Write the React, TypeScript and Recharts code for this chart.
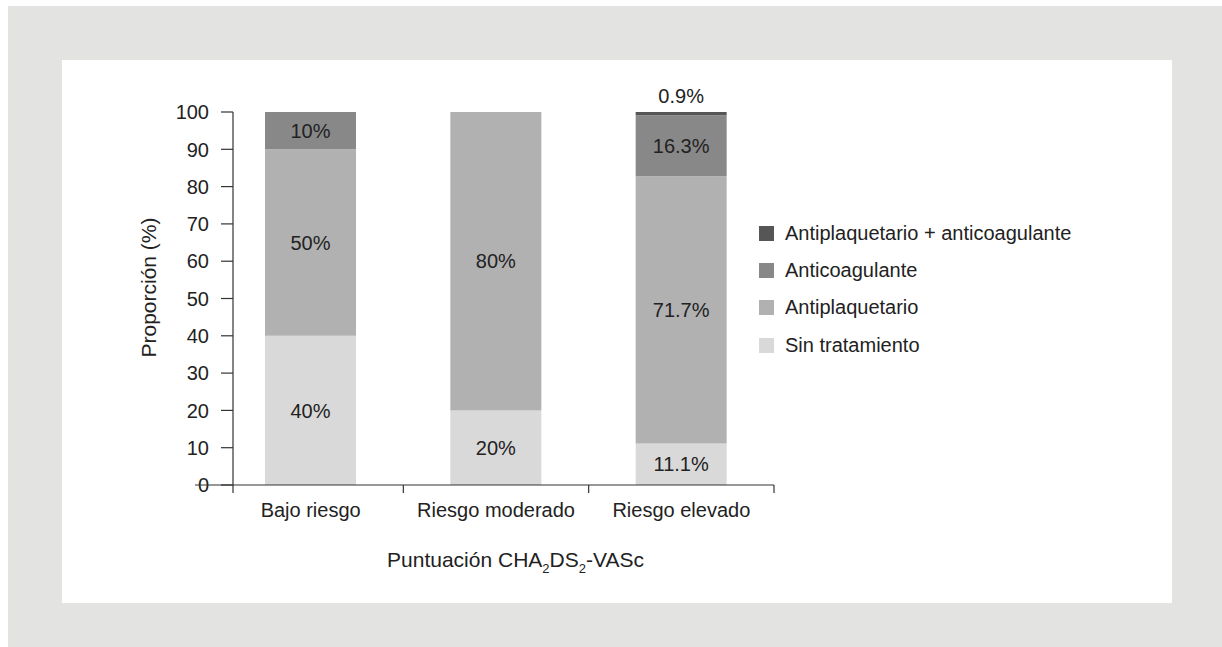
import React from 'react';
import { BarChart, Bar, XAxis, YAxis, Legend, LabelList } from 'recharts';

const categories = ['Bajo riesgo', 'Riesgo moderado', 'Riesgo elevado'];
const sinTratamiento = [40, 20, 11.1];
const antiplaquetario = [50, 80, 71.7];
const anticoagulante = [10, 0, 16.3];
const antiplaqAnticoag = [0, 0, 0.9];
const yTicks = [0, 10, 20, 30, 40, 50, 60, 70, 80, 90, 100];
const legendOrder = ['Antiplaquetario + anticoagulante', 'Anticoagulante', 'Antiplaquetario', 'Sin tratamiento'];

const data = categories.map((name, i) => ({
  name,
  sin: sinTratamiento[i],
  antiplaq: antiplaquetario[i],
  anticoag: anticoagulante[i],
  ambos: antiplaqAnticoag[i],
}));

const FONT = '"Liberation Sans", Arial, Helvetica, sans-serif';
const TEXT = '#222';
const AXIS = '#333';

const CHART_W = 1110;
const CHART_H = 543;
const MARGIN = { top: 52, right: 398, bottom: 18, left: 71 };
const Y_AXIS_W = 100;
const X_PAD_LEFT = -15;
const PLOT_W = CHART_W - MARGIN.left - MARGIN.right - Y_AXIS_W;
const BAND = (PLOT_W - X_PAD_LEFT) / categories.length;

const XTick = (props: any) => {
  const { x, y, payload, index } = props;
  return (
    <g>
      <text x={x} y={y + 24} textAnchor="middle" fontSize={20} fill={TEXT} fontFamily={FONT}>
        {payload.value}
      </text>
      {index > 0 && (
        <line x1={x - BAND / 2} x2={x - BAND / 2} y1={y - 8} y2={y} stroke={AXIS} strokeWidth={1.2} />
      )}
      {index === categories.length - 1 && (
        <line x1={x + BAND / 2} x2={x + BAND / 2} y1={y - 8} y2={y} stroke={AXIS} strokeWidth={1.2} />
      )}
    </g>
  );
};

const YTick = (props: any) => {
  const { x, y, payload } = props;
  return (
    <g>
      <text x={x} y={y} dy="0.36em" textAnchor="end" fontSize={20} fill={TEXT} fontFamily={FONT}>
        {payload.value}
      </text>
      {payload.value === 0 && (
        <g>
          <line x1={x - 14} x2={x + 24} y1={y} y2={y} stroke={AXIS} strokeWidth={1.2} />
          <line x1={x + 24} x2={x + 24} y1={y} y2={y + 8} stroke={AXIS} strokeWidth={1.2} />
        </g>
      )}
    </g>
  );
};

const xLabel = (props: any) => {
  const vb = props.viewBox || {};
  const cx = vb.x + vb.width / 2 + 12;
  const y = vb.y + 82;
  return (
    <text x={cx} y={y} textAnchor="middle" fontSize={21} fill={TEXT} fontFamily={FONT}>
      <tspan>Puntuación CHA</tspan>
      <tspan fontSize={13} dy={6}>2</tspan>
      <tspan fontSize={21} dy={-6}>DS</tspan>
      <tspan fontSize={13} dy={6}>2</tspan>
      <tspan fontSize={21} dy={-6}>-VASc</tspan>
    </text>
  );
};

const yLabel = (props: any) => {
  const vb = props.viewBox || {};
  const cx = vb.x + 16;
  const cy = vb.y + vb.height / 2 - 11;
  return (
    <text
      x={cx}
      y={cy}
      transform={`rotate(-90, ${cx}, ${cy})`}
      textAnchor="middle"
      dy="0.35em"
      fontSize={21}
      fill={TEXT}
      fontFamily={FONT}
    >
      Proporción (%)
    </text>
  );
};

const barLabel = (props: any) => {
  const { x, y, width, height, value } = props;
  if (!value) return null;
  if (value < 2) {
    return (
      <text x={x + width / 2} y={y - 9} textAnchor="middle" fontSize={20} fill={TEXT} fontFamily={FONT}>
        {`${value}%`}
      </text>
    );
  }
  return (
    <text
      x={x + width / 2}
      y={y + height / 2}
      dy="0.36em"
      textAnchor="middle"
      fontSize={20}
      fill={TEXT}
      fontFamily={FONT}
    >
      {`${value}%`}
    </text>
  );
};

const LegendContent = (props: any) => {
  const items = [...(props.payload || [])].sort(
    (a: any, b: any) => legendOrder.indexOf(a.value) - legendOrder.indexOf(b.value)
  );
  return (
    <ul style={{ listStyle: 'none', margin: 0, padding: 0, fontFamily: FONT }}>
      {items.map((it: any) => (
        <li key={it.value} style={{ display: 'flex', alignItems: 'center', height: 37.3 }}>
          <span style={{ display: 'inline-block', width: 15, height: 15, background: it.color, marginRight: 11 }} />
          <span style={{ fontSize: 20, color: TEXT, whiteSpace: 'nowrap' }}>{it.value}</span>
        </li>
      ))}
    </ul>
  );
};

export default function App() {
  return (
    <div style={{ position: 'fixed', left: 8, top: 6, right: 0, bottom: 0, background: '#e3e3e1' }}>
      <div style={{ position: 'absolute', left: 54, top: 54, width: CHART_W, height: CHART_H, background: '#ffffff' }}>
        <BarChart width={CHART_W} height={CHART_H} data={data} margin={MARGIN}>
          <XAxis
            dataKey="name"
            type="category"
            padding={{ left: X_PAD_LEFT, right: 0 }}
            interval={0}
            tickLine={false}
            tickSize={8}
            tickMargin={0}
            axisLine={{ stroke: AXIS, strokeWidth: 1.2 }}
            tick={<XTick />}
            height={100}
            label={xLabel}
          />
          <YAxis
            type="number"
            domain={[0, 100]}
            ticks={yTicks}
            interval={0}
            width={Y_AXIS_W}
            tickSize={12}
            tickMargin={12}
            tickLine={{ stroke: AXIS, strokeWidth: 1.2 }}
            axisLine={{ stroke: AXIS, strokeWidth: 1.2 }}
            tick={<YTick />}
            label={yLabel}
          />
          <Legend
            layout="vertical"
            align="center"
            verticalAlign="middle"
            wrapperStyle={{ left: 697, top: 154.5, width: 360 }}
            content={<LegendContent />}
          />
          <Bar dataKey="sin" name="Sin tratamiento" stackId="a" fill="#d9d9d9" barSize={91} isAnimationActive={false}>
            <LabelList dataKey="sin" content={barLabel} />
          </Bar>
          <Bar dataKey="antiplaq" name="Antiplaquetario" stackId="a" fill="#b1b1b1" barSize={91} isAnimationActive={false}>
            <LabelList dataKey="antiplaq" content={barLabel} />
          </Bar>
          <Bar dataKey="anticoag" name="Anticoagulante" stackId="a" fill="#888888" barSize={91} isAnimationActive={false}>
            <LabelList dataKey="anticoag" content={barLabel} />
          </Bar>
          <Bar dataKey="ambos" name="Antiplaquetario + anticoagulante" stackId="a" fill="#565656" barSize={91} isAnimationActive={false}>
            <LabelList dataKey="ambos" content={barLabel} />
          </Bar>
        </BarChart>
      </div>
    </div>
  );
}
